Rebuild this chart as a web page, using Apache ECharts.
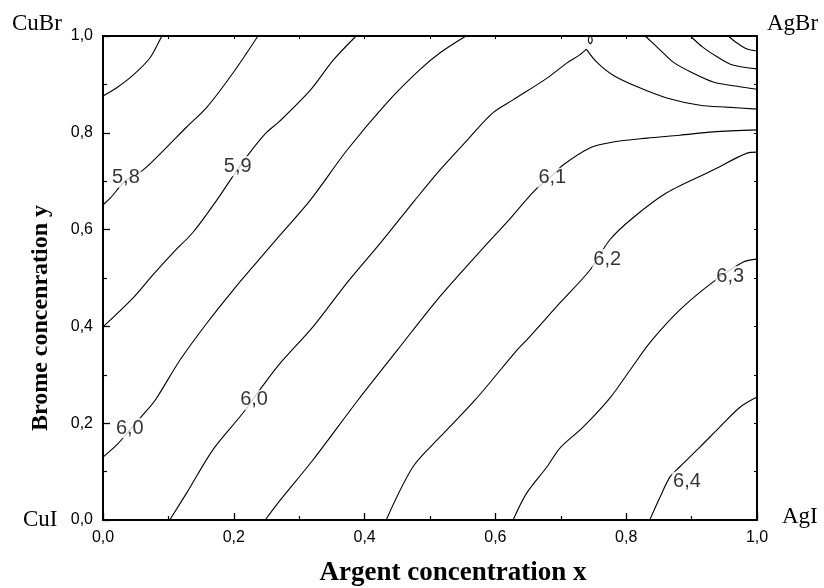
<!DOCTYPE html>
<html>
<head>
<meta charset="utf-8">
<script src="https://cdn.jsdelivr.net/npm/echarts@6/dist/echarts.min.js"></script>
<style>
  html, body { margin: 0; padding: 0; background: #fff; }
  #chart { width: 824px; height: 588px; }
</style>
</head>
<body>
<div id="chart"></div>
<script>
// Iso-lines over the Cu(1-x)Ag(x)Br(y)I(1-y) composition square.
// Each line is a list of [x, y] points.
const iso57 = [[0, 0.876], [0.021, 0.893], [0.046, 0.919], [0.072, 0.955], [0.087, 0.992], [0.090, 1.0]];
const iso58 = [[0, 0.651], [0.011, 0.665], [0.035, 0.702], [0.061, 0.723], [0.098, 0.771], [0.128, 0.812],
  [0.159, 0.853], [0.199, 0.924], [0.237, 1.0]];
const iso59 = [[0, 0.399], [0.046, 0.459], [0.076, 0.506], [0.107, 0.552], [0.138, 0.595], [0.174, 0.661],
  [0.197, 0.707], [0.225, 0.760], [0.248, 0.798], [0.271, 0.825], [0.317, 0.888], [0.352, 0.950], [0.387, 1.0]];
const iso60a = [[0, 0.130], [0.021, 0.155], [0.041, 0.186], [0.061, 0.217], [0.080, 0.248], [0.118, 0.331],
  [0.159, 0.407], [0.199, 0.475], [0.229, 0.523], [0.271, 0.589], [0.317, 0.661], [0.373, 0.764],
  [0.434, 0.862], [0.484, 0.930], [0.515, 0.965], [0.555, 1.0]];
const iso60bRise = [[0.102, 0], [0.128, 0.056], [0.168, 0.145], [0.214, 0.221], [0.243, 0.275], [0.271, 0.324],
  [0.321, 0.399], [0.373, 0.490], [0.424, 0.572], [0.477, 0.661], [0.515, 0.723], [0.557, 0.785],
  [0.596, 0.841], [0.627, 0.868], [0.679, 0.913], [0.709, 0.944], [0.729, 0.961], [0.739, 0.973]];
const iso60bFall = [[0.739, 0.973], [0.755, 0.946], [0.780, 0.919], [0.817, 0.895], [0.862, 0.872],
  [0.913, 0.857], [0.954, 0.853], [1.0, 0.849]];
const iso60bLoop = [[0.744, 1.0], [0.742, 0.991], [0.745, 0.984], [0.748, 0.990], [0.747, 1.0]];
const iso61 = [[0.248, 0], [0.271, 0.041], [0.321, 0.124], [0.390, 0.248], [0.450, 0.351], [0.511, 0.455],
  [0.576, 0.554], [0.618, 0.616], [0.661, 0.682], [0.687, 0.712], [0.703, 0.733], [0.745, 0.769],
  [0.780, 0.781], [0.832, 0.789], [0.882, 0.795], [0.933, 0.802], [1.0, 0.806]];
const iso62 = [[0.433, 0], [0.474, 0.110], [0.515, 0.171], [0.569, 0.248], [0.633, 0.351], [0.648, 0.372],
  [0.699, 0.449], [0.745, 0.517], [0.775, 0.579], [0.810, 0.624], [0.862, 0.676], [0.933, 0.723],
  [0.985, 0.758], [1.0, 0.760]];
const iso63 = [[0.627, 0], [0.648, 0.056], [0.679, 0.110], [0.699, 0.149], [0.734, 0.192], [0.775, 0.252],
  [0.806, 0.310], [0.836, 0.366], [0.882, 0.434], [0.933, 0.492], [0.979, 0.533], [1.0, 0.539]];
const iso64 = [[0.836, 0], [0.852, 0.048], [0.867, 0.089], [0.882, 0.110], [0.913, 0.151], [0.943, 0.192],
  [0.974, 0.233], [1.0, 0.254]];
const isoCornerA = [[0.829, 1.0], [0.852, 0.971], [0.872, 0.946], [0.898, 0.926], [0.933, 0.905], [0.974, 0.895], [1.0, 0.890]];
const isoCornerB = [[0.898, 1.0], [0.917, 0.977], [0.939, 0.957], [0.963, 0.940], [1.0, 0.932]];
const isoCornerC = [[0.956, 1.0], [0.969, 0.986], [0.985, 0.973], [1.0, 0.969]];

// Inline level labels: [x, y, text]
const levelLabels = [
  [0.035, 0.707, '5,8'],
  [0.206, 0.731, '5,9'],
  [0.041, 0.190, '6,0'],
  [0.231, 0.248, '6,0'],
  [0.687, 0.707, '6,1'],
  [0.771, 0.539, '6,2'],
  [0.959, 0.504, '6,3'],
  [0.893, 0.079, '6,4']
];

// End-member compounds at the corners
const cornerNames = ['CuBr', 'AgBr', 'CuI', 'AgI'];

const axisMin = 0, axisMax = 1, majorStep = 0.2, minorStep = 0.1;
const xTitle = 'Argent concentration x';
const yTitle = 'Brome concenration y';

const sans = 'Liberation Sans, Arial, sans-serif';
const serif = 'Liberation Serif, Times New Roman, serif';
const fmt = v => v.toFixed(1).replace('.', ',');

const lineSets = [iso57, iso58, iso59, iso60a, iso60bRise, iso60bFall, iso60bLoop,
  iso61, iso62, iso63, iso64, isoCornerA, isoCornerB, isoCornerC];

const chart = echarts.init(document.getElementById('chart'), null, { renderer: 'canvas' });

const mainAxis = (pos) => ({
  type: 'value', position: pos, min: axisMin, max: axisMax, interval: majorStep,
  axisLine: { show: true, onZero: false, lineStyle: { color: '#000', width: 2 } },
  axisTick: { show: true, inside: true, length: 7, lineStyle: { color: '#000', width: 1.3 } },
  minorTick: { show: true, splitNumber: Math.round(majorStep / minorStep), length: 4, lineStyle: { color: '#000', width: 1.2 } },
  splitLine: { show: false },
  minorSplitLine: { show: false },
  axisLabel: { show: true, color: '#000', fontFamily: sans, fontSize: 16, margin: 10, formatter: fmt }
});
const mirrorAxis = (pos) => ({
  type: 'value', position: pos, min: axisMin, max: axisMax, interval: minorStep,
  axisLine: { show: true, onZero: false, lineStyle: { color: '#000', width: 2 } },
  axisTick: { show: true, inside: true, length: 3, lineStyle: { color: '#000', width: 1 } },
  splitLine: { show: false },
  axisLabel: { show: false }
});

const series = lineSets.map(pts => ({
  type: 'line', data: pts, xAxisIndex: 0, yAxisIndex: 0,
  symbol: 'none', showSymbol: false, smooth: 0.3, silent: true, animation: false,
  lineStyle: { color: '#000', width: 1.1 }, z: 2
}));
series.push({
  type: 'scatter', data: levelLabels, xAxisIndex: 0, yAxisIndex: 0,
  symbolSize: 1, itemStyle: { color: 'rgba(0,0,0,0)' }, silent: true, animation: false, z: 5,
  label: {
    show: true, position: 'inside', formatter: p => p.value[2],
    color: '#000', fontFamily: sans, fontSize: 20, lineHeight: 20,
    backgroundColor: '#fff', padding: [0, 1]
  }
});

const cornerText = (name, x, y, align) => ({
  type: 'text', x: x, y: y, silent: true,
  style: { text: name, font: '23px ' + serif, fill: '#000', align: align, verticalAlign: 'middle' }
});

chart.setOption({
  animation: false,
  backgroundColor: '#fff',
  grid: { left: 103, top: 36, width: 654, height: 484, containLabel: false },
  xAxis: [mainAxis('bottom'), mirrorAxis('top')],
  yAxis: [mainAxis('left'), mirrorAxis('right')],
  series: series,
  graphic: [
    cornerText(cornerNames[0], 12, 24, 'left'),
    cornerText(cornerNames[1], 767, 24, 'left'),
    cornerText(cornerNames[2], 23, 520, 'left'),
    cornerText(cornerNames[3], 782, 517, 'left'),
    {
      type: 'text', x: 453, y: 573, silent: true,
      style: { text: xTitle, font: 'bold 27px ' + serif, fill: '#000', align: 'center', verticalAlign: 'middle' }
    },
    {
      type: 'text', x: 41, y: 318, rotation: Math.PI / 2, silent: true,
      style: { text: yTitle, font: 'bold 24px ' + serif, fill: '#000', align: 'center', verticalAlign: 'middle' }
    }
  ]
});
</script>
</body>
</html>
